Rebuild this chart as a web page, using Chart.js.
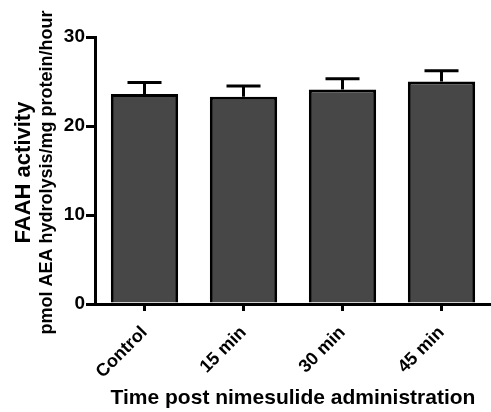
<!DOCTYPE html>
<html>
<head>
<meta charset="utf-8">
<script src="https://cdn.jsdelivr.net/npm/chart.js@4.4.0/dist/chart.umd.min.js"></script>
<style>
    html, body { margin: 0; padding: 0; background: #fff; }
    #wrap { width: 491px; height: 412px; }
</style>
</head>
<body>
<div id="wrap"><canvas id="faahChart"></canvas></div>
<script>
const categories = ['Control', '15 min', '30 min', '45 min'];
const activity = [23.6, 23.3, 24.1, 25.0];
const sem = [1.3, 1.2, 1.2, 1.2];
const yTicks = [0, 10, 20, 30];

const fontFamily = '"Liberation Sans", Arial, sans-serif';

// upper error bars, GraphPad style
const errorBars = {
    id: 'errorBars',
    afterDatasetsDraw(chart) {
        const ctx = chart.ctx;
        const yScale = chart.scales.y;
        const meta = chart.getDatasetMeta(0);
        ctx.save();
        ctx.strokeStyle = '#000';
        ctx.lineWidth = 3;
        meta.data.forEach((bar, i) => {
            const yTop = yScale.getPixelForValue(activity[i] + sem[i]);
            const yBar = yScale.getPixelForValue(activity[i]);
            ctx.beginPath();
            ctx.moveTo(bar.x, yBar);
            ctx.lineTo(bar.x, yTop);
            ctx.moveTo(bar.x - 17, yTop);
            ctx.lineTo(bar.x + 17, yTop);
            ctx.stroke();
        });
        ctx.restore();
    }
};

// two-line y axis title with different weights
const yTitle = {
    id: 'yTitle',
    afterDraw(chart) {
        const ctx = chart.ctx;
        const area = chart.chartArea;
        const cy = (area.top + area.bottom) / 2 + 2;
        ctx.save();
        ctx.fillStyle = '#000';
        ctx.textAlign = 'center';
        ctx.textBaseline = 'middle';
        ctx.translate(24, cy);
        ctx.rotate(-Math.PI / 2);
        ctx.font = 'bold 22px ' + fontFamily;
        ctx.fillText('FAAH activity', 0, 0);
        ctx.restore();

        ctx.save();
        ctx.fillStyle = '#000';
        ctx.textAlign = 'center';
        ctx.textBaseline = 'middle';
        ctx.translate(47, cy);
        ctx.rotate(-Math.PI / 2);
        ctx.font = 'bold 18px ' + fontFamily;
        ctx.fillText('pmol AEA hydrolysis/mg protein/hour', 0, 0);
        ctx.restore();
    }
};

new Chart(document.getElementById('faahChart').getContext('2d'), {
    type: 'bar',
    data: {
        labels: categories,
        datasets: [{
            data: activity,
            backgroundColor: '#474747',
            borderColor: '#000',
            borderWidth: 3,
            borderSkipped: 'bottom',
            categoryPercentage: 1,
            barPercentage: 0.68
        }]
    },
    options: {
        responsive: true,
        maintainAspectRatio: false,
        animation: false,
        layout: {
            padding: { top: 37, right: 0, left: 0, bottom: 0 }
        },
        plugins: {
            legend: { display: false },
            tooltip: { enabled: false }
        },
        scales: {
            x: {
                grid: {
                    offset: false,
                    drawOnChartArea: false,
                    color: '#000',
                    lineWidth: 3,
                    tickLength: 7
                },
                border: { color: '#000', width: 3 },
                ticks: {
                    color: '#000',
                    minRotation: 45,
                    maxRotation: 45,
                    padding: 11,
                    font: { family: fontFamily, size: 18, weight: 'bold' }
                },
                title: {
                    display: true,
                    text: 'Time post nimesulide administration',
                    color: '#000',
                    padding: { top: 0, bottom: 1 },
                    font: { family: fontFamily, size: 21, weight: 'bold' }
                },
                afterFit(scale) { scale.height = 108; }
            },
            y: {
                min: 0,
                max: 30,
                afterBuildTicks(scale) {
                    scale.ticks = yTicks.map(v => ({ value: v }));
                },
                grid: {
                    drawOnChartArea: false,
                    color: '#000',
                    lineWidth: 3,
                    tickLength: 9
                },
                border: { color: '#000', width: 3 },
                ticks: {
                    color: '#000',
                    padding: 1,
                    font: { family: fontFamily, size: 19, weight: 'bold' }
                },
                afterFit(scale) { scale.width = 95; }
            }
        }
    },
    plugins: [errorBars, yTitle]
});
</script>
</body>
</html>
